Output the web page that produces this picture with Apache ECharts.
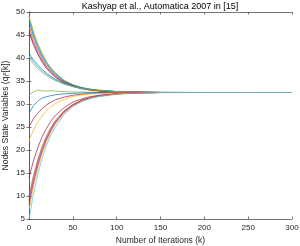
<!DOCTYPE html>
<html><head><meta charset="utf-8">
<script src="https://cdn.jsdelivr.net/npm/echarts@6/dist/echarts.min.js"></script>
<style>html,body{margin:0;padding:0;background:#fff}#c{width:300px;height:246px}</style>
</head><body><div id="c"></div>
<script>
const iterations = [0,5,10,15,20,25,30,40,50,60,70,80,100,120,150,200,250,300];
const xTicks = [0,50,100,150,200,250,300];
const yTicks = [5,10,15,20,25,30,35,40,45,50];
const node01 = [49.2,45.8,43.1,41.0,39.2,37.9,36.8,35.2,34.2,33.6,33.2,32.9,32.7,32.6,32.5,32.5,32.5,32.5];
const node02 = [49.0,45.6,43.0,40.9,39.1,37.8,36.7,35.1,34.2,33.6,33.2,32.9,32.7,32.6,32.5,32.5,32.5,32.5];
const node03 = [48.5,45.2,42.6,40.6,38.9,37.6,36.6,35.0,34.1,33.5,33.2,32.9,32.7,32.6,32.5,32.5,32.5,32.5];
const node04 = [48.0,44.8,42.3,40.3,38.7,37.5,36.5,35.0,34.1,33.5,33.1,32.9,32.7,32.6,32.5,32.5,32.5,32.5];
const node05 = [47.0,44.0,41.7,39.8,38.3,37.2,36.2,34.8,34.0,33.4,33.1,32.9,32.7,32.6,32.5,32.5,32.5,32.5];
const node06 = [46.0,43.3,41.1,39.4,38.0,36.9,36.0,34.7,33.9,33.4,33.1,32.9,32.6,32.55,32.5,32.5,32.5,32.5];
const node07 = [45.5,42.9,40.8,39.1,37.7,36.7,35.8,34.6,33.8,33.3,33.0,32.8,32.6,32.55,32.5,32.5,32.5,32.5];
const node08 = [41.0,39.6,38.5,37.5,36.7,36.0,35.4,34.5,33.9,33.5,33.2,33.0,32.7,32.6,32.55,32.5,32.5,32.5];
const node09 = [40.5,39.2,38.1,37.2,36.4,35.8,35.2,34.4,33.8,33.4,33.2,33.0,32.7,32.6,32.55,32.5,32.5,32.5];
const node10 = [40.0,38.8,37.7,36.9,36.2,35.6,35.1,34.3,33.8,33.4,33.1,32.9,32.7,32.6,32.5,32.5,32.5,32.5];
const node11 = [32.0,32.6,33.0,32.9,32.8,32.9,32.8,32.7,32.6,32.6,32.55,32.5,32.5,32.5,32.5,32.5,32.5,32.5];
const node12 = [28.0,29.6,30.6,31.3,31.6,31.8,32.0,32.2,32.3,32.4,32.45,32.5,32.5,32.5,32.5,32.5,32.5,32.5];
const node13 = [25.0,26.8,28.0,29.0,29.8,30.4,30.9,31.5,31.9,32.1,32.3,32.4,32.5,32.5,32.5,32.5,32.5,32.5];
const node14 = [22.0,24.3,26.0,27.4,28.5,29.4,30.1,31.0,31.6,32.0,32.2,32.3,32.45,32.5,32.5,32.5,32.5,32.5];
const node15 = [14.0,17.6,20.5,22.9,24.7,26.3,27.5,29.2,30.4,31.1,31.6,31.9,32.25,32.4,32.5,32.5,32.5,32.5];
const node16 = [10.0,14.4,17.9,20.8,23.1,24.9,26.4,28.5,29.9,30.8,31.4,31.8,32.2,32.4,32.5,32.5,32.5,32.5];
const node17 = [9.0,13.6,17.3,20.3,22.6,24.6,26.1,28.4,29.8,30.8,31.4,31.8,32.2,32.4,32.5,32.5,32.5,32.5];
const node18 = [8.0,12.8,16.6,19.7,22.2,24.2,25.9,28.2,29.7,30.7,31.3,31.7,32.2,32.4,32.5,32.5,32.5,32.5];
const node19 = [7.0,12.0,16.0,19.2,21.8,23.9,25.6,28.0,29.6,30.6,31.3,31.7,32.2,32.4,32.5,32.5,32.5,32.5];
const node20 = [5.0,10.4,14.7,18.2,21.0,23.2,25.0,27.7,29.4,30.5,31.2,31.6,32.1,32.35,32.46,32.5,32.5,32.5];
const nodes = [node01,node02,node03,node04,node05,node06,node07,node08,node09,node10,node11,node12,node13,node14,node15,node16,node17,node18,node19,node20];
const nodeColors = ['#EDB120','#77AC30','#4DBEEE','#0072BD','#D95319','#7E2F8E','#A2142F','#0072BD','#4DBEEE','#77AC30','#77AC30','#0072BD','#A2142F','#EDB120','#A2142F','#D95319','#7E2F8E','#A2142F','#EDB120','#4DBEEE'];
const titleText = 'Kashyap et al., Automatica 2007 in [15]';
const xName = 'Number of Iterations (k)';
const yName = 'Nodes State Variables (q\u1D62\u02E2[k])';

const font = 'Liberation Sans, Arial, Helvetica, sans-serif';
const axisColor = '#262626';
const series = nodes.map((vals, i) => ({
  type: 'line',
  data: vals.map((v, j) => [iterations[j], v]),
  showSymbol: false,
  symbol: 'none',
  lineStyle: { width: 0.7, color: nodeColors[i] },
  color: nodeColors[i],
  xAxisIndex: 0, yAxisIndex: 0,
  animation: false,
  z: 2
}));
const gridOpt = { left: 29, right: 8, top: 12, bottom: 27, containLabel: false, outerBoundsMode: 'none' };
const xCommon = {
  type: 'value', min: 0, max: 300, interval: 50,
  axisLine: { show: true, lineStyle: { color: '#555', width: 0.8 } },
  axisTick: { show: true, inside: true, length: 2.5, lineStyle: { color: '#555', width: 0.8 } },
  splitLine: { show: false }
};
const yCommon = {
  type: 'value', min: 5, max: 50, interval: 5,
  axisLine: { show: true, lineStyle: { color: '#555', width: 0.8 } },
  axisTick: { show: true, inside: true, length: 2.5, lineStyle: { color: '#555', width: 0.8 } },
  splitLine: { show: false }
};
const chart = echarts.init(document.getElementById('c'), null, { renderer: 'canvas' });
chart.setOption({
  animation: false,
  backgroundColor: '#fff',
  title: { text: titleText, left: 160, textAlign: 'center', top: 2, padding: 0,
    textStyle: { fontSize: 9, fontWeight: 'normal', color: '#000', fontFamily: font } },
  grid: gridOpt,
  xAxis: [
    Object.assign({}, xCommon, { position: 'bottom',
      name: xName, nameLocation: 'middle', nameGap: 17, nameMoveOverlap: false,
      nameTextStyle: { fontSize: 8.5, color: axisColor, fontFamily: font },
      axisLabel: { show: true, fontSize: 8, color: axisColor, fontFamily: font, margin: 5,
        formatter: v => xTicks.includes(v) ? String(v) : '' } }),
    Object.assign({}, xCommon, { position: 'top', axisLabel: { show: false } })
  ],
  yAxis: [
    Object.assign({}, yCommon, { position: 'left',
      name: yName, nameLocation: 'middle', nameGap: 19, nameMoveOverlap: false,
      nameTextStyle: { fontSize: 8.5, color: axisColor, fontFamily: font },
      axisLabel: { show: true, fontSize: 8, color: axisColor, fontFamily: font, margin: 4,
        formatter: v => yTicks.includes(v) ? String(v) : '' } }),
    Object.assign({}, yCommon, { position: 'right', axisLabel: { show: false } })
  ],
  series: series
});
</script></body></html>
